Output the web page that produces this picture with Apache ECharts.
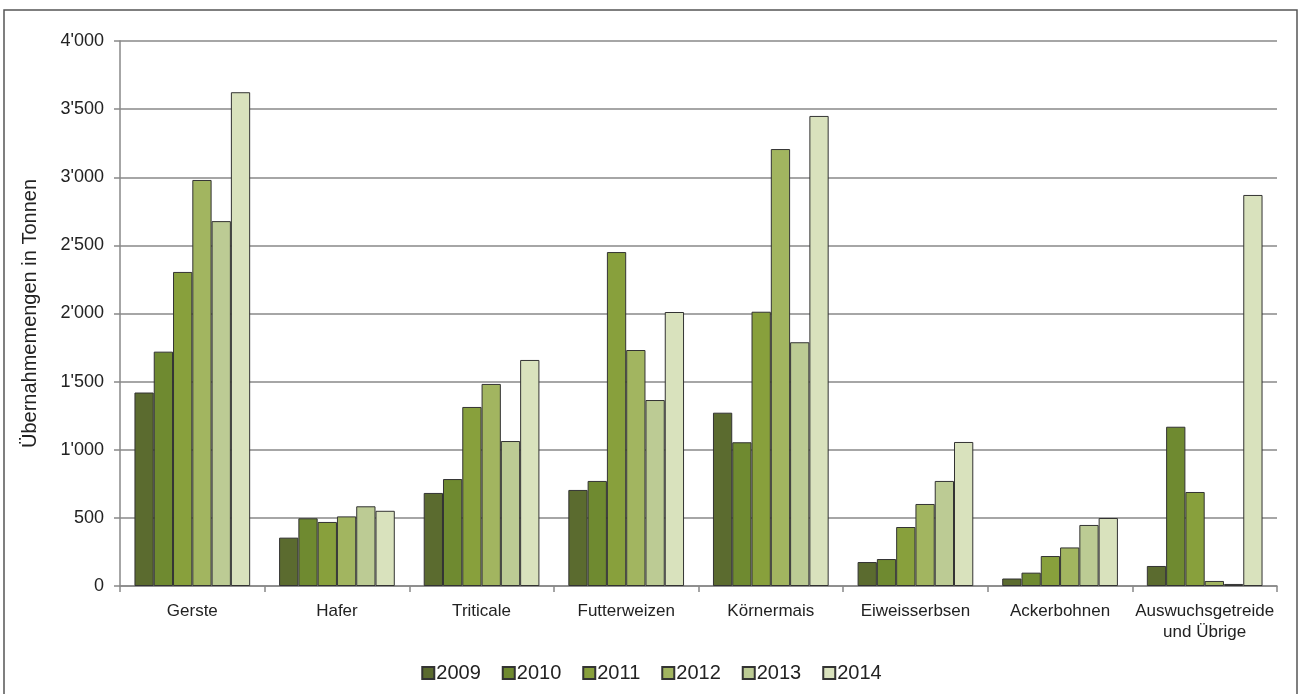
<!DOCTYPE html>
<html>
<head>
<meta charset="utf-8">
<script src="https://cdn.jsdelivr.net/npm/echarts@6/dist/echarts.min.js"></script>
<style>
  html, body { margin: 0; padding: 0; background: #ffffff; }
  #chart { width: 1303px; height: 694px; }
</style>
</head>
<body>
<div id="chart"></div>
<script>
// Übernahmemengen nach Kultur und Jahr (Tonnen)
const categories = ['Gerste', 'Hafer', 'Triticale', 'Futterweizen', 'Körnermais', 'Eiweisserbsen', 'Ackerbohnen', 'Auswuchsgetreide\nund Übrige'];
const years = ['2009', '2010', '2011', '2012', '2013', '2014'];

const values2009 = [1420, 355, 683, 705, 1272, 176, 55, 147];
const values2010 = [1720, 497, 785, 771, 1055, 198, 98, 1169];
const values2011 = [2305, 470, 1314, 2451, 2013, 433, 220, 690];
const values2012 = [2980, 511, 1483, 1732, 3207, 602, 283, 37];
const values2013 = [2678, 585, 1064, 1365, 1789, 771, 448, 15];
const values2014 = [3624, 552, 1659, 2011, 3450, 1057, 499, 2870];

const yTicks = [0, 500, 1000, 1500, 2000, 2500, 3000, 3500, 4000];

const seriesValues = [values2009, values2010, values2011, values2012, values2013, values2014];
const palette = ['#5b6b2f', '#6f8a30', '#88a03c', '#a2b560', '#bccb94', '#d9e2bd'];

const fontFamily = '"Liberation Sans", Arial, sans-serif';

function formatThousands(v) {
  const s = String(Math.round(v));
  return s.replace(/\B(?=(\d{3})+(?!\d))/g, "'");
}

const chart = echarts.init(document.getElementById('chart'), null, { renderer: 'canvas' });

chart.setOption({
  animation: false,
  backgroundColor: '#ffffff',
  textStyle: { fontFamily: fontFamily, color: '#222' },
  graphic: [{
    type: 'rect',
    shape: { x: 4, y: 10, width: 1293, height: 700 },
    style: { fill: 'none', stroke: '#555', lineWidth: 1.5 },
    silent: true
  }],
  grid: { left: 120, right: 26, top: 41, bottom: 108 },
  legend: {
    data: years,
    bottom: 6,
    left: 'center',
    icon: 'rect',
    itemWidth: 12,
    itemHeight: 12,
    itemGap: 21,
    textStyle: { fontSize: 20, color: '#222', fontFamily: fontFamily, padding: [0, 0, 0, -3] }
  },
  xAxis: {
    type: 'category',
    data: categories,
    boundaryGap: true,
    axisLine: { lineStyle: { color: '#888', width: 1.5 } },
    axisTick: { show: true, length: 6, lineStyle: { color: '#888', width: 1.5 } },
    axisLabel: { interval: 0, fontSize: 17, color: '#222', margin: 15, lineHeight: 21, fontFamily: fontFamily }
  },
  yAxis: {
    type: 'value',
    min: yTicks[0],
    max: yTicks[yTicks.length - 1],
    interval: 500,
    name: 'Übernahmemengen in Tonnen',
    nameLocation: 'middle',
    nameGap: 80,
    nameTextStyle: { fontSize: 20, color: '#222', fontFamily: fontFamily },
    axisLine: { show: true, lineStyle: { color: '#888', width: 1.5 } },
    axisTick: { show: true, length: 6, lineStyle: { color: '#888', width: 1.5 } },
    axisLabel: { fontSize: 18, color: '#222', margin: 16, formatter: formatThousands, fontFamily: fontFamily },
    splitLine: { show: true, lineStyle: { color: '#888', width: 1.5 } }
  },
  series: years.map((y, i) => ({
    name: y,
    type: 'bar',
    data: seriesValues[i],
    barGap: '0%',
    barCategoryGap: '20%',
    itemStyle: { color: palette[i], borderColor: '#333', borderWidth: 1 }
  }))
});
</script>
</body>
</html>
